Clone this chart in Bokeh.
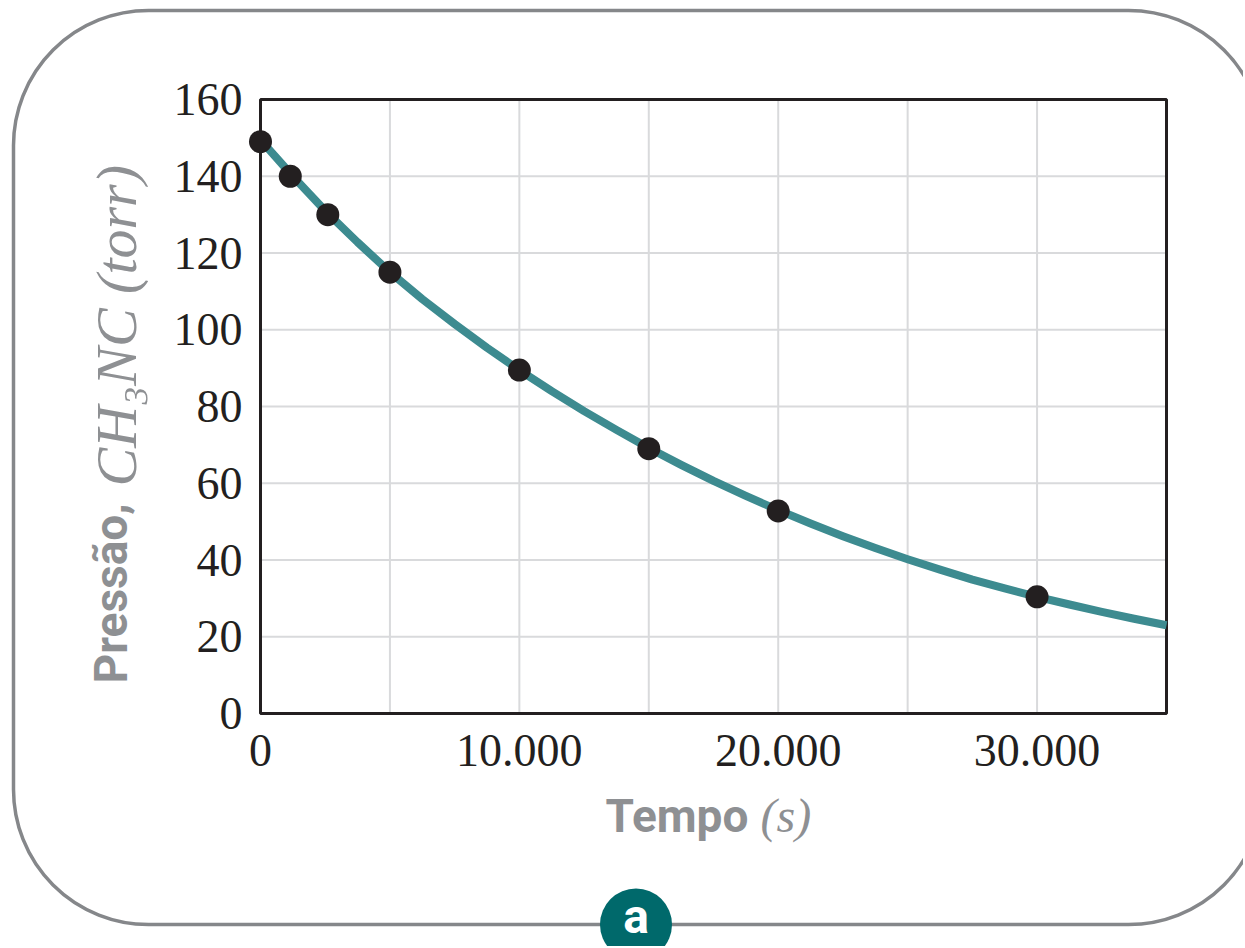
import math
from bokeh.plotting import figure
from bokeh.models import FixedTicker, Label, BoxAnnotation, Range1d
from bokeh.embed import file_html
from bokeh.resources import INLINE

# ---- data ----
time_pts = [0, 1150, 2600, 5000, 10000, 15000, 20000, 30000]
press_pts = [149, 140, 130, 115, 89.5, 69, 52.8, 30.4]

# fitted curve, read along its length
curve_t = [0, 1250, 2500, 3750, 5000, 6250, 7500, 8750, 10000, 11250,
           12500, 13750, 15000, 16250, 17500, 18750, 20000, 21250, 22500,
           23750, 25000, 26250, 27500, 28750, 30000, 31250, 32500, 33750,
           35000]
curve_p = [149.5, 140.0, 131.0, 122.8, 115.0, 108.0, 101.5, 95.3, 89.5,
           84.0, 78.8, 73.9, 69.2, 64.8, 60.6, 56.7, 53.0, 49.5, 46.2,
           43.1, 40.2, 37.5, 34.9, 32.6, 30.4, 28.4, 26.5, 24.7, 23.0]

x_ticks = [0, 10000, 20000, 30000]
x_tick_labels = ["0", "10.000", "20.000", "30.000"]
x_grid = [0, 5000, 10000, 15000, 20000, 25000, 30000, 35000]
y_ticks = [0, 20, 40, 60, 80, 100, 120, 140, 160]

# ---- layout (pixels) ----
W, H = 1243, 946
BOX_L, BOX_R, BOX_T, BOX_B = 260, 1166, 99, 713   # inner chart box on the page

TEAL = "#3d8b90"
DARK = "#231f20"
GREY = "#8e9093"
SERIF = "Liberation Serif"
SANS = "Roboto"

xmin, xmax = x_grid[0], x_grid[-1]
ymin, ymax = y_ticks[0], y_ticks[-1]
kx = (BOX_R - BOX_L) / (xmax - xmin)
ky = (BOX_B - BOX_T) / (ymax - ymin)
x_range = Range1d(xmin - BOX_L / kx, xmax + (W - BOX_R) / kx)
y_range = Range1d(ymin - (H - BOX_B) / ky, ymax + BOX_T / ky)


def sy(page_y):
    # screen units of annotations are measured upwards from the frame bottom
    return H - page_y


p = figure(output_backend="svg", toolbar_location=None,
           frame_width=W, frame_height=H, min_border=0,
           x_range=x_range, y_range=y_range)
p.title.visible = False
p.background_fill_color = "white"
p.border_fill_color = "white"
p.outline_line_color = None
p.xgrid.visible = False
p.ygrid.visible = False

# axes drawn at the data origin (fixed location), labels outside the chart box
p.xaxis.fixed_location = 0
p.yaxis.fixed_location = 0
p.xaxis.ticker = FixedTicker(ticks=x_ticks)
p.xaxis.major_label_overrides = {t: l for t, l in zip(x_ticks, x_tick_labels)}
p.yaxis.ticker = FixedTicker(ticks=y_ticks)
for ax in (p.xaxis, p.yaxis):
    ax.axis_line_color = None
    ax.major_tick_line_color = None
    ax.minor_tick_line_color = None
    ax.major_label_text_font = SERIF
    ax.major_label_text_font_size = "46px"
    ax.major_label_text_color = DARK
p.xaxis.major_label_standoff = 15
p.yaxis.major_label_standoff = 12

# rounded outer frame
p.add_layout(BoxAnnotation(left=13, right=W + 20, bottom=sy(924), top=sy(10),
                           left_units="screen", right_units="screen",
                           bottom_units="screen", top_units="screen",
                           fill_alpha=0, line_color="#85878a", line_alpha=1,
                           line_width=3.5, border_radius=135, level="underlay"))

# grid lines (interior), chart box
gx = x_grid[1:-1]
gy = y_ticks[1:-1]
p.segment(x0=gx, y0=[ymin] * len(gx), x1=gx, y1=[ymax] * len(gx),
          line_color="#d9dadc", line_width=2)
p.segment(x0=[xmin] * len(gy), y0=gy, x1=[xmax] * len(gy), y1=gy,
          line_color="#d9dadc", line_width=2)
p.quad(left=[xmin], right=[xmax], bottom=[ymin], top=[ymax],
       fill_color=None, line_color=DARK, line_width=3)

p.line(curve_t, curve_p, line_color=TEAL, line_width=8, line_join="round")
p.scatter(time_pts, press_pts, size=23, fill_color=DARK, line_color=None)

# circle badge "a"
p.add_layout(BoxAnnotation(left=599.5, right=671.5, bottom=sy(960), top=sy(888),
                           left_units="screen", right_units="screen",
                           bottom_units="screen", top_units="screen",
                           fill_color="#00696b", fill_alpha=1,
                           line_color=None, border_radius=36))
p.add_layout(Label(x=635.5, y=sy(916), x_units="screen", y_units="screen",
                   text="a", text_align="center", text_baseline="alphabetic",
                   text_font=SANS, text_font_style="bold",
                   text_font_size="48px", text_color="white"))

# axis titles
p.add_layout(Label(x=605, y=sy(815), x_units="screen", y_units="screen",
                   text="Tempo", text_align="left", text_baseline="alphabetic",
                   text_font=SANS, text_font_style="bold",
                   text_font_size="46px", text_color=GREY))
p.add_layout(Label(x=760, y=sy(815), x_units="screen", y_units="screen",
                   text="(s)", text_align="left", text_baseline="alphabetic",
                   text_font=SERIF, text_font_style="italic",
                   text_font_size="48px", text_color=GREY))
p.add_layout(Label(x=110, y=sy(683), x_units="screen", y_units="screen",
                   text="Pressão,", angle=math.pi / 2,
                   text_align="left", text_baseline="alphabetic",
                   text_font=SANS, text_font_style="bold",
                   text_font_size="46px", text_color=GREY))
p.add_layout(Label(x=116, y=sy(486), x_units="screen", y_units="screen",
                   text="CH₃NC (torr)", angle=math.pi / 2,
                   text_align="left", text_baseline="alphabetic",
                   text_font=SERIF, text_font_style="italic",
                   text_font_size="58px", text_color=GREY))

open("out.html", "w").write(file_html(p, INLINE))
